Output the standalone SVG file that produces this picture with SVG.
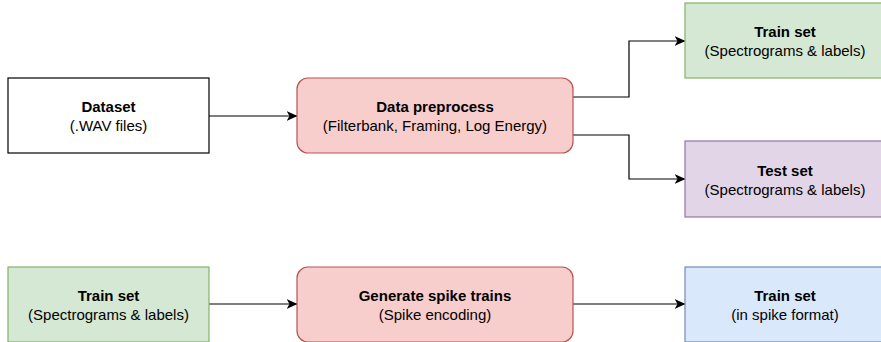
<svg xmlns="http://www.w3.org/2000/svg" width="881" height="342" viewBox="0 0 881 342">
  <defs>
    <marker id="arrow" viewBox="0 0 11 10" refX="10.5" refY="5" markerWidth="11" markerHeight="10" markerUnits="userSpaceOnUse" orient="auto">
      <path d="M0,0 L11,5 L0,10 L3,5 Z" fill="#000"/>
    </marker>
    <style>
      .box { stroke-width: 1.2; }
      .plain { fill: #ffffff; stroke: #000000; }
      .green { fill: #d5e8d4; stroke: #82b366; }
      .red { fill: #f8cecc; stroke: #b85450; }
      .purple { fill: #e1d5e7; stroke: #9673a6; }
      .blue { fill: #dae8fc; stroke: #6c8ebf; }
      text { font-family: "Liberation Sans", Arial, Helvetica, sans-serif; font-size: 15px; fill: #000; text-anchor: middle; }
      .title { font-weight: bold; }
      .edge { fill: none; stroke: #000; stroke-width: 1.2; marker-end: url(#arrow); }
    </style>
  </defs>
  <rect width="881" height="342" fill="#ffffff"/>

  <g id="connectors">
    <path class="edge" d="M209,116 H297"/>
    <path class="edge" d="M573,97 H629 V41 H685"/>
    <path class="edge" d="M573,135 H629 V179 H685"/>
    <path class="edge" d="M209,304 H297"/>
    <path class="edge" d="M573,304 H685"/>
  </g>

  <g id="dataset">
    <rect class="box plain" x="8" y="78" width="201" height="75"/>
    <text class="title" x="108.5" y="112">Dataset</text>
    <text x="108.5" y="131">(.WAV files)</text>
  </g>

  <g id="preprocess">
    <rect class="box red" x="297" y="78" width="276" height="75" rx="11" ry="11"/>
    <text class="title" x="435" y="112">Data preprocess</text>
    <text x="435" y="131">(Filterbank, Framing, Log Energy)</text>
  </g>

  <g id="train-set">
    <rect class="box green" x="685" y="3" width="200" height="75"/>
    <text class="title" x="785" y="37">Train set</text>
    <text x="785" y="56">(Spectrograms &amp; labels)</text>
  </g>

  <g id="test-set">
    <rect class="box purple" x="685" y="141" width="200" height="76"/>
    <text class="title" x="785" y="175.5">Test set</text>
    <text x="785" y="194.5">(Spectrograms &amp; labels)</text>
  </g>

  <g id="train-set-input">
    <rect class="box green" x="8" y="267" width="201" height="75"/>
    <text class="title" x="108.5" y="300.5">Train set</text>
    <text x="108.5" y="319.5">(Spectrograms &amp; labels)</text>
  </g>

  <g id="spike-gen">
    <rect class="box red" x="297" y="267" width="276" height="75" rx="11" ry="11"/>
    <text class="title" x="435" y="300.5">Generate spike trains</text>
    <text x="435" y="319.5">(Spike encoding)</text>
  </g>

  <g id="train-set-spikes">
    <rect class="box blue" x="685" y="267" width="200" height="75"/>
    <text class="title" x="785" y="300.5">Train set</text>
    <text x="785" y="319.5">(in spike format)</text>
  </g>
</svg>
